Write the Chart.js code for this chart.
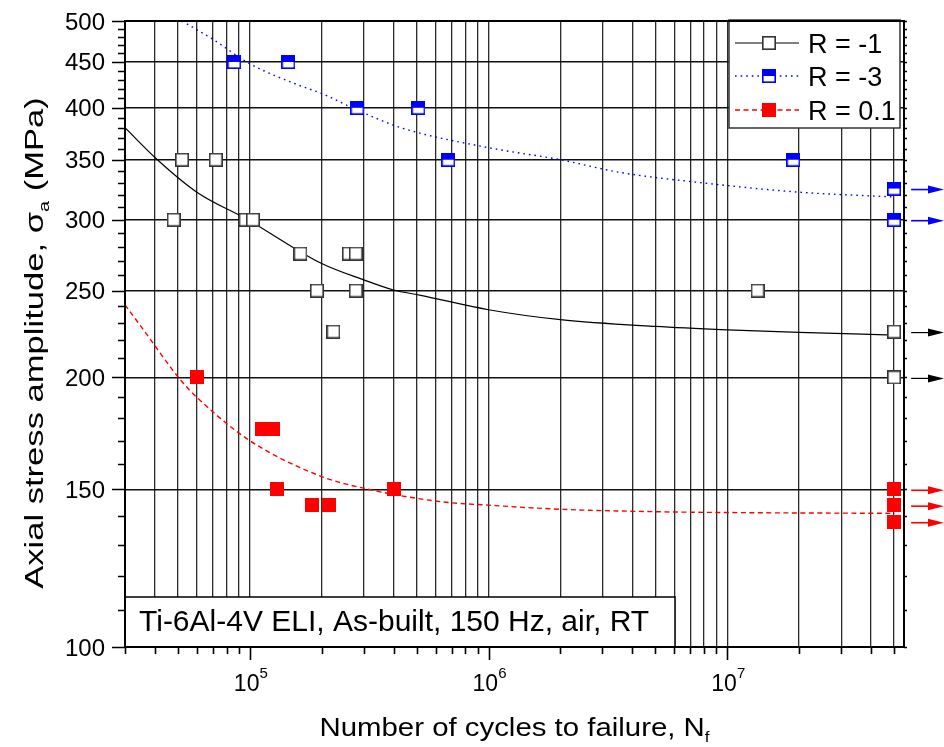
<!DOCTYPE html>
<html>
<head>
<meta charset="utf-8">
<script src="https://cdn.jsdelivr.net/npm/chart.js@4/dist/chart.umd.min.js"></script>
<style>
  html, body { margin: 0; padding: 0; background: #fff; }
  canvas { display: block; }
</style>
</head>
<body>
<canvas id="snChart" width="944" height="747"></canvas>
<script>
// R = -1 test results (cycles, stress amplitude in MPa)
const nRm1 = [5.2e4, 7.2e4, 4.8e4, 9.6e4, 1.03e5, 1.63e5, 2.6e5, 2.78e5, 1.91e5, 2.78e5, 2.24e5, 1.34e7, 5e7, 5e7];
const sRm1 = [350, 350, 300, 300, 300, 275, 275, 275, 250, 250, 225, 250, 225, 200];

// R = -3
const nRm3 = [8.6e4, 1.45e5, 2.82e5, 5.08e5, 6.78e5, 1.89e7, 5e7, 5e7];
const sRm3 = [450, 450, 400, 400, 350, 350, 325, 300];

// R = 0.1
const nR01 = [6e4, 1.12e5, 1.25e5, 1.3e5, 1.82e5, 2.15e5, 4e5, 5e7, 5e7, 5e7];
const sR01 = [200, 175, 175, 150, 144, 144, 150, 150, 144, 138];

// fitted S-N curves
const fitNRm1 = [3e4, 4.1e4, 6e4, 9.8e4, 2e5, 3e5, 4e5, 5.2e5, 1e6, 2e6, 5e6, 1e7, 2e7, 5e7];
const fitSRm1 = [380, 350, 322, 300, 268, 257, 250.4, 247, 238, 232, 228, 226, 224.5, 223];
const fitNRm3 = [5.2e4, 7e4, 1e5, 1.6e5, 2e5, 2.8e5, 4.3e5, 1e6, 2e6, 3.5e6, 7.7e6, 2e7, 5e7];
const fitSRm3 = [500, 477, 448, 424, 415, 398, 380, 361, 350, 339, 330, 322, 318];
const fitNR01 = [3e4, 3.5e4, 5.1e4, 6e4, 1e5, 2e5, 3e5, 6.3e5, 1e6, 2e6, 5e6, 1e7, 5e7];
const fitSR01 = [241, 228, 199, 190, 170, 155, 150.4, 145.3, 144, 142.5, 141.6, 141.3, 141];

// specimens that did not fail (run-outs)
const runoutN = 5e7;

// axes
const xMin = 3e4, xMax = 5.5e7;
const yMin = 100, yMax = 500;
const xMajor = [1e5, 1e6, 1e7];
const xMajorExp = ['5', '6', '7'];
const xGrid = [3e4, 4e4, 5e4, 6e4, 7e4, 8e4, 9e4,
  1e5, 2e5, 3e5, 4e5, 5e5, 6e5, 7e5, 8e5, 9e5,
  1e6, 2e6, 3e6, 4e6, 5e6, 6e6, 7e6, 8e6, 9e6,
  1e7, 2e7, 3e7, 4e7, 5e7];
const yLabels = [100, 150, 200, 250, 300, 350, 400, 450, 500];

const legendLabels = ['R = -1', 'R = -3', 'R = 0.1'];
const noteText = 'Ti-6Al-4V ELI, As-built, 150 Hz, air, RT';

const FONT = '"Liberation Sans", Arial, Helvetica, sans-serif';
const BLUE = '#0000ff', RED = '#ff0000';

function pts(xs, ys) {
  return xs.map((x, i) => ({ x: x, y: ys[i] }));
}

// square marker, top and bottom halves filled separately
function squareMarker(size, edge, top, bottom, lw) {
  const c = document.createElement('canvas');
  c.width = size; c.height = size;
  const g = c.getContext('2d');
  g.fillStyle = bottom;
  g.fillRect(0, 0, size, size);
  g.fillStyle = top;
  g.fillRect(0, 0, size, Math.round(size * 0.5));
  if (lw) {
    g.strokeStyle = edge;
    g.lineWidth = lw;
    g.strokeRect(lw / 2, lw / 2, size - lw, size - lw);
  }
  return c;
}

const mkRm1 = squareMarker(14, '#333', '#fff', '#fff', 1.6);
const mkRm3 = squareMarker(14, BLUE, BLUE, '#fff', 1.6);
const mkR01 = squareMarker(14, RED, RED, RED, 0);

const series = [
  { label: legendLabels[0], n: nRm1, s: sRm1, marker: mkRm1, color: '#000', dash: [] },
  { label: legendLabels[1], n: nRm3, s: sRm3, marker: mkRm3, color: BLUE, dash: [1.6, 4] },
  { label: legendLabels[2], n: nR01, s: sR01, marker: mkR01, color: RED, dash: [5, 3.5] }
];
const fits = [[fitNRm1, fitSRm1], [fitNRm3, fitSRm3], [fitNR01, fitSR01]];

const datasets = [];
series.forEach((sr, i) => {
  datasets.push({
    label: sr.label + ' fit',
    data: pts(fits[i][0], fits[i][1]),
    showLine: true,
    pointRadius: 0,
    borderColor: sr.color,
    borderWidth: i === 0 ? 1.2 : 1.4,
    borderDash: sr.dash,
    cubicInterpolationMode: 'monotone',
    order: 2
  });
});
series.forEach((sr) => {
  datasets.push({
    label: sr.label,
    data: pts(sr.n, sr.s),
    pointStyle: sr.marker,
    pointRadius: 7,
    showLine: false,
    order: 1
  });
});

function drawArrow(ctx, x0, x1, y, color, lw) {
  ctx.save();
  ctx.strokeStyle = color;
  ctx.fillStyle = color;
  ctx.lineWidth = lw;
  ctx.beginPath();
  ctx.moveTo(x0, y);
  ctx.lineTo(x1 - 12, y);
  ctx.stroke();
  ctx.beginPath();
  ctx.moveTo(x1, y);
  ctx.lineTo(x1 - 16, y - 4);
  ctx.lineTo(x1 - 16, y + 4);
  ctx.closePath();
  ctx.fill();
  ctx.restore();
}

// text runs with sub/superscripts: [{t, size, dy}]
function richWidth(ctx, parts) {
  let w = 0;
  parts.forEach(p => { ctx.font = p.size + 'px ' + FONT; w += ctx.measureText(p.t).width; });
  return w;
}
function drawRich(ctx, parts, x, y) {
  let cx = x;
  parts.forEach(p => {
    ctx.font = p.size + 'px ' + FONT;
    ctx.fillText(p.t, cx, y + (p.dy || 0));
    cx += ctx.measureText(p.t).width;
  });
}

const decorations = {
  id: 'decorations',
  afterDatasetsDraw(chart) {
    const { ctx, chartArea: a, scales } = chart;
    const xs = scales.x, ys = scales.y;
    ctx.save();
    ctx.fillStyle = '#000';
    ctx.strokeStyle = '#000';
    ctx.textBaseline = 'alphabetic';

    // note box
    ctx.fillStyle = '#fff';
    ctx.fillRect(a.left, 597, 550, a.bottom - 597);
    ctx.lineWidth = 1.5;
    ctx.strokeRect(a.left, 597, 550, a.bottom - 597);
    ctx.fillStyle = '#000';
    ctx.font = '30px ' + FONT;
    ctx.textAlign = 'left';
    ctx.fillText(noteText, a.left + 14, 631);

    // legend
    const lg = { l: 729, t: 20, r: 900, b: 128 };
    ctx.fillStyle = '#fff';
    ctx.fillRect(lg.l, lg.t, lg.r - lg.l, lg.b - lg.t);
    ctx.lineWidth = 1.5;
    ctx.strokeStyle = '#333';
    ctx.strokeRect(lg.l, lg.t, lg.r - lg.l, lg.b - lg.t);
    const rowY = [43, 76, 110];
    series.forEach((sr, i) => {
      const y = rowY[i];
      ctx.save();
      ctx.strokeStyle = sr.color;
      ctx.lineWidth = i === 0 ? 1.2 : 1.4;
      ctx.setLineDash(sr.dash);
      ctx.beginPath();
      ctx.moveTo(735, y);
      ctx.lineTo(799, y);
      ctx.stroke();
      ctx.restore();
      const m = sr.marker;
      ctx.drawImage(m, Math.round(769 - m.width / 2), Math.round(y - m.height / 2));
      ctx.fillStyle = '#000';
      ctx.font = '27px ' + FONT;
      ctx.textAlign = 'left';
      ctx.fillText(sr.label, 808, y + 10);
    });

    // frame
    ctx.strokeStyle = '#000';
    ctx.lineWidth = 2;
    ctx.strokeRect(a.left, a.top, a.right - a.left, a.bottom - a.top);

    // bottom ticks
    ctx.lineWidth = 1.6;
    ctx.beginPath();
    xGrid.forEach(v => {
      const px = Math.round(xs.getPixelForValue(v)) + 0.5;
      const len = xMajor.includes(v) ? 13 : 7;
      ctx.moveTo(px, a.bottom);
      ctx.lineTo(px, a.bottom + len);
    });
    // left and right ticks
    for (let v = yMin; v <= yMax; v += 10) {
      const py = Math.round(ys.getPixelForValue(v)) + 0.5;
      const len = yLabels.includes(v) ? 13 : 7;
      ctx.moveTo(a.left - len, py);
      ctx.lineTo(a.left, py);
      ctx.moveTo(a.right, py);
      ctx.lineTo(a.right + 3, py);
    }
    ctx.stroke();

    // y tick labels
    ctx.font = '24px ' + FONT;
    ctx.textAlign = 'right';
    yLabels.forEach(v => {
      ctx.fillText(String(v), 105, ys.getPixelForValue(v) + 8.5);
    });

    // x tick labels as powers of ten
    ctx.textAlign = 'left';
    xMajor.forEach((v, i) => {
      const parts = [{ t: '10', size: 23 }, { t: xMajorExp[i], size: 15, dy: -13 }];
      const w = richWidth(ctx, parts);
      drawRich(ctx, parts, xs.getPixelForValue(v) - w / 2 + 1, 691);
    });

    // axis titles
    const xTitle = [{ t: 'Number of cycles to failure, N', size: 26 }, { t: 'f', size: 15, dy: 6 }];
    const xw = richWidth(ctx, xTitle);
    ctx.save();
    ctx.translate((a.left + a.right) / 2, 736);
    ctx.scale(1.13, 1);
    drawRich(ctx, xTitle, -xw / 2, 0);
    ctx.restore();

    const yTitle = [{ t: 'Axial stress amplitude, \u03c3', size: 26 }, { t: 'a', size: 15, dy: 6 }, { t: ' (MPa)', size: 26 }];
    const yw = richWidth(ctx, yTitle);
    ctx.save();
    ctx.translate(43, (a.top + a.bottom) / 2 + 9);
    ctx.rotate(-Math.PI / 2);
    ctx.scale(1.33, 1);
    drawRich(ctx, yTitle, -yw / 2, 0);
    ctx.restore();

    // run-out arrows
    const arrowColors = ['#000', BLUE, RED];
    series.forEach((sr, i) => {
      sr.n.forEach((n, k) => {
        if (n < runoutN) return;
        const px = xs.getPixelForValue(n);
        const py = ys.getPixelForValue(sr.s[k]);
        drawArrow(ctx, px + 17, chart.width, py + 1, arrowColors[i], i === 0 ? 1.2 : 1.6);
      });
    });

    ctx.restore();
  }
};

const ctx = document.getElementById('snChart').getContext('2d');
new Chart(ctx, {
  type: 'scatter',
  data: { datasets: datasets },
  options: {
    responsive: false,
    animation: false,
    devicePixelRatio: 1,
    layout: { padding: { top: 21, right: 40, bottom: 0, left: 0 } },
    plugins: {
      legend: { display: false },
      tooltip: { enabled: false }
    },
    scales: {
      x: {
        type: 'logarithmic',
        min: xMin,
        max: xMax,
        afterBuildTicks: (s) => { s.ticks = xGrid.map(v => ({ value: v })); },
        afterFit: (s) => { s.height = 100; },
        ticks: { display: false },
        border: { display: false },
        grid: { color: 'rgba(20,20,20,0.9)', lineWidth: 1.3, drawTicks: false }
      },
      y: {
        type: 'logarithmic',
        min: yMin,
        max: yMax,
        afterBuildTicks: (s) => { s.ticks = yLabels.map(v => ({ value: v })); },
        afterFit: (s) => { s.width = 125; },
        ticks: { display: false },
        border: { display: false },
        grid: { color: '#111', lineWidth: 1.4, drawTicks: false }
      }
    }
  },
  plugins: [decorations]
});
</script>
</body>
</html>
